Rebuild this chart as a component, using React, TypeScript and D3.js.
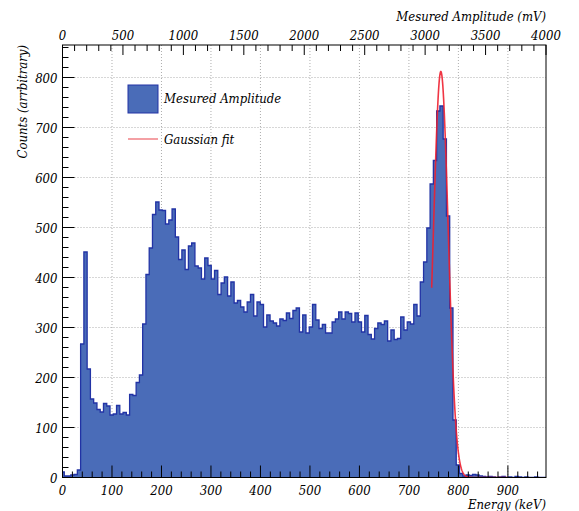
import React from 'react';
import * as d3 from 'd3';

// histogram bins (keV): first bin starts at binStart, all bins binWidth wide
const binStart = -3;
const binWidth = 6.6;
const counts = [
  11, 3, 3, 5, 6, 15, 267, 451, 217, 157,
  149, 136, 131, 148, 143, 125, 127, 144, 127, 130,
  125, 166, 164, 190, 205, 307, 406, 459, 526, 551,
  535, 534, 507, 515, 537, 481, 436, 455, 416, 463,
  469, 423, 419, 397, 439, 424, 397, 414, 366, 389,
  401, 363, 391, 349, 354, 341, 331, 351, 366, 323,
  351, 346, 301, 325, 313, 309, 303, 317, 314, 329,
  318, 334, 339, 291, 325, 289, 301, 346, 315, 298,
  306, 289, 289, 311, 317, 331, 317, 331, 328, 311,
  329, 311, 291, 324, 286, 277, 298, 309, 306, 313,
  273, 295, 276, 278, 321, 295, 311, 307, 346, 323,
  391, 431, 499, 587, 634, 733, 743, 677, 523, 339,
  115, 25, 8, 3, 5, 4, 6, 5, 3, 2,
  1, 2, 1, 0, 1, 2, 0, 1, 0, 2,
  1, 0, 1, 0, 0, 1, 0, 0, 0,
];

// gaussian fit parameters
const fitAmp = 812;
const fitMean = 764.5;
const fitSigma = 15;
const fitRange = [746, 900];

const energyTicks = [0, 100, 200, 300, 400, 500, 600, 700, 800, 900];
const countTicks = [0, 100, 200, 300, 400, 500, 600, 700, 800];
const mvTicks = [0, 500, 1000, 1500, 2000, 2500, 3000, 3500, 4000];

const W = 579;
const H = 511;
const left = 62.5;
const right = 546;
const top = 45;
const bottom = 477.5;

export default function App() {
  const x = d3.scaleLinear().domain([0, 977]).range([left, right]);
  const xTop = d3.scaleLinear().domain([0, 4000]).range([left, right]);
  const y = d3.scaleLinear().domain([0, 865]).range([bottom, top]);

  const pts: [number, number][] = counts.map((c, i) => [binStart + i * binWidth, c]);
  pts.push([binStart + counts.length * binWidth, counts[counts.length - 1]]);

  const area = d3.area<[number, number]>()
    .x(d => x(d[0]))
    .y0(y(0))
    .y1(d => y(d[1]))
    .curve(d3.curveStepAfter);
  const outline = d3.line<[number, number]>()
    .x(d => x(d[0]))
    .y(d => y(d[1]))
    .curve(d3.curveStepAfter);

  const fitPts = d3.range(fitRange[0], fitRange[1] + 0.5, 0.5).map(e =>
    [e, fitAmp * Math.exp(-((e - fitMean) ** 2) / (2 * fitSigma * fitSigma))] as [number, number]);
  const fitLine = d3.line<[number, number]>().x(d => x(d[0])).y(d => y(d[1]));

  const minorX = d3.range(0, 977, 20);
  const minorY = d3.range(0, 865, 20);
  const minorTop = d3.range(0, 4001, 100);

  const fill = '#4a6cb8';
  const edge = '#2233a5';

  return (
    <svg width={W} height={H}
      style={{ position: 'absolute', left: 0, top: 0, background: '#fff',
        fontFamily: '"DejaVu Serif Condensed", "DejaVu Serif", serif', fontStretch: 'condensed',
        fontStyle: 'italic', fontSize: 13 }}>
      <defs>
        <clipPath id="frame">
          <rect x={left} y={top} width={right - left} height={bottom - top} />
        </clipPath>
      </defs>

      {/* grid */}
      <g stroke="#999" strokeWidth={0.8} strokeDasharray="1,2">
        {energyTicks.slice(1).map(t => (
          <line key={'gx' + t} x1={x(t)} x2={x(t)} y1={top} y2={bottom} />
        ))}
        {countTicks.slice(1).map(t => (
          <line key={'gy' + t} x1={left} x2={right} y1={y(t)} y2={y(t)} />
        ))}
      </g>

      <g clipPath="url(#frame)">
        <path d={area(pts) || ''} fill={fill} />
        <path d={outline(pts) || ''} fill="none" stroke={edge} strokeWidth={1.3} />
        <path d={fitLine(fitPts) || ''} fill="none" stroke="#ee2030" strokeWidth={1.6} strokeOpacity={0.9} />
      </g>

      {/* frame */}
      <rect x={left} y={top} width={right - left} height={bottom - top} fill="none" stroke="#000" strokeWidth={1} />

      {/* ticks */}
      <g stroke="#000" strokeWidth={1}>
        {minorX.map(t => (
          <line key={'tx' + t} x1={x(t)} x2={x(t)} y1={bottom} y2={bottom - (t % 100 === 0 ? 12 : 6)} />
        ))}
        {minorY.map(t => (
          <line key={'ty' + t} x1={left} x2={left + (t % 100 === 0 ? 12 : 6)} y1={y(t)} y2={y(t)} />
        ))}
        {minorTop.map(t => (
          <line key={'tt' + t} x1={xTop(t)} x2={xTop(t)} y1={top} y2={top + (t % 500 === 0 ? 10 : 6)} />
        ))}
      </g>

      {/* tick labels */}
      {energyTicks.map(t => (
        <text key={'lx' + t} x={x(t)} y={495} textAnchor="middle">{t}</text>
      ))}
      {countTicks.map(t => (
        <text key={'ly' + t} x={left - 5} y={y(t) + 5} textAnchor="end">{t}</text>
      ))}
      {mvTicks.map(t => (
        <text key={'lt' + t} x={xTop(t)} y={40} textAnchor="middle">{t}</text>
      ))}

      {/* axis titles */}
      <text x={right} y={509} textAnchor="end">Energy (keV)</text>
      <text x={right} y={21} textAnchor="end">Mesured Amplitude (mV)</text>
      <text transform={`translate(27, ${top}) rotate(-90)`} textAnchor="end">Counts (arrbitrary)</text>

      {/* legend */}
      <rect x={128} y={85} width={30} height={28} fill={fill} stroke={edge} strokeWidth={1} />
      <text x={164} y={103}>Mesured Amplitude</text>
      <line x1={128} x2={158} y1={139} y2={139} stroke="#f4a0a4" strokeWidth={2} />
      <text x={164} y={144}>Gaussian fit</text>
    </svg>
  );
}
